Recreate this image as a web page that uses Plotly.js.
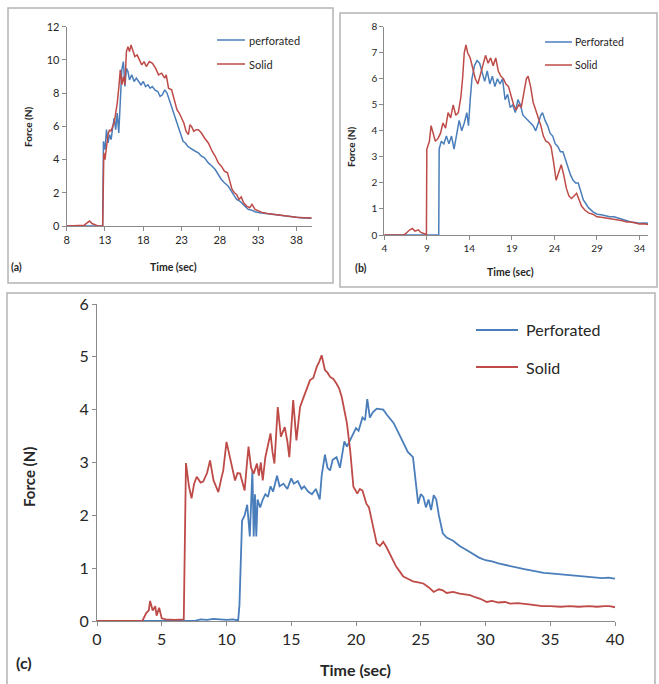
<!DOCTYPE html>
<html>
<head>
<meta charset="utf-8">
<script src="https://cdn.plot.ly/plotly-3.0.1.min.js"></script>
<style>html,body{margin:0;padding:0;background:#fff}#chart{width:659px;height:684px}</style>
</head>
<body>
<div id="chart"></div>
<script>
// ---------- Panel (a) ----------
const aPerfT = [8,12.7,12.8,13.0,13.2,13.4,13.6,13.8,14.0,14.2,
  14.4,14.6,14.8,15.0,15.2,15.4,15.6,15.8,16.0,16.2,
  16.5,16.8,17.1,17.4,17.7,18.0,18.3,18.6,18.9,19.2,
  19.5,19.9,20.2,20.5,20.8,21.1,21.4,21.7,22.0,22.3,
  22.6,22.9,23.2,23.5,23.8,24.1,24.4,24.8,25.2,25.6,
  26.0,26.5,27.0,27.4,27.8,28.2,28.6,29.1,29.5,29.9,
  30.2,30.6,31.0,31.3,31.7,32.2,32.6,33.2,34.0,34.7,
  35.5,36.5,37.5,38.5,39.2,40];
const aPerfF = [0,0,5.1,4.6,5.8,5.0,5.5,5.2,5.9,6.5,
  5.8,6.8,5.6,7.8,9.4,9.9,8.4,9.5,9.3,8.8,
  9.1,8.7,8.9,8.7,8.5,8.7,8.4,8.5,8.3,8.4,
  8.2,8.1,7.8,7.9,8.2,8.0,7.6,7.2,6.8,6.3,
  6.0,5.6,5.1,5.0,4.8,4.7,4.6,4.5,4.4,4.2,
  4.1,3.8,3.6,3.4,3.1,2.8,2.6,2.4,2.1,1.8,
  1.6,1.5,1.3,1.2,1.0,0.95,0.86,0.8,0.75,0.7,
  0.66,0.6,0.55,0.5,0.48,0.46];
const aSolidT = [8,10.3,10.7,11.0,11.3,11.6,12.0,12.7,12.85,13.0,
  13.2,13.4,13.6,13.8,14.0,14.2,14.4,14.6,14.8,15.0,
  15.2,15.4,15.6,15.8,16.0,16.2,16.4,16.6,16.9,17.2,
  17.5,17.8,18.1,18.4,18.8,19.2,19.6,20.0,20.4,20.8,
  21.0,21.3,21.7,22.1,22.4,22.7,23.0,23.3,23.6,23.9,
  24.1,24.3,24.6,24.9,25.2,25.6,26.0,26.5,27.0,27.4,
  27.8,28.2,28.6,29.0,29.3,29.6,29.9,30.2,30.5,30.8,
  31.1,31.5,31.9,32.2,32.6,33.0,33.5,34.2,35.0,36.1,
  37.0,38.0,39.0,39.7,40];
const aSolidF = [0,0.05,0.2,0.3,0.15,0.1,0.02,0.0,4.4,4.0,
  4.8,5.5,5.8,5.7,6.0,6.2,6.8,7.4,8.3,9.4,
  8.5,9.0,8.5,10.5,10.8,10.5,10.9,10.6,10.2,10.3,
  10.0,9.7,9.9,9.6,9.9,9.8,9.5,9.1,9.2,8.9,
  9.1,8.3,8.2,7.5,7.0,6.8,6.5,6.2,5.7,5.5,
  6.1,6.0,5.7,5.8,5.8,5.6,5.3,5.0,4.5,4.2,
  3.8,3.6,3.3,3.2,2.7,2.2,2.0,1.9,1.6,1.75,
  1.4,1.2,1.1,1.3,1.0,0.9,0.82,0.75,0.7,0.66,
  0.58,0.52,0.5,0.46,0.48];

// ---------- Panel (b) ----------
const bPerfT = [4,10.4,10.45,10.7,11.0,11.3,11.6,11.9,12.2,12.5,
  12.8,13.1,13.4,13.7,13.9,14.1,14.3,14.6,14.9,15.2,
  15.5,15.8,16.1,16.4,16.7,17.0,17.3,17.6,17.9,18.2,
  18.5,18.8,19.1,19.4,19.7,20.0,20.3,20.6,20.9,21.2,
  21.5,21.8,22.1,22.4,22.6,22.9,23.2,23.5,23.8,24.1,
  24.4,24.7,25.0,25.3,25.6,25.9,26.2,26.5,26.8,27.1,
  27.4,27.7,28.0,28.5,29.0,29.5,30.0,30.5,31.0,31.5,
  32.0,32.5,33.0,33.5,34.0,34.5,35.0];
const bPerfF = [0,0,3.3,3.6,3.5,3.8,3.5,3.8,3.3,3.9,
  4.4,4.0,4.3,4.7,4.2,5.2,6.0,6.5,6.7,6.6,
  6.2,5.9,6.3,5.8,6.1,5.7,6.0,5.8,6.0,5.2,
  5.4,4.9,5.0,4.7,5.2,5.0,4.6,4.5,4.4,4.3,
  4.2,4.0,4.3,4.6,4.7,4.4,4.2,3.9,3.8,3.5,
  3.4,3.2,3.2,2.9,2.6,2.3,2.1,2.0,2.0,1.7,
  1.35,1.2,1.05,0.9,0.8,0.78,0.74,0.7,0.7,0.65,
  0.6,0.55,0.5,0.48,0.45,0.46,0.45];
const bSolidT = [4,6.3,6.5,7.0,7.3,7.6,8.0,8.3,8.7,8.95,
  9.0,9.3,9.5,9.8,10.0,10.3,10.6,10.9,11.2,11.5,
  11.8,12.1,12.4,12.7,13.0,13.2,13.4,13.6,13.8,14.1,
  14.4,14.7,15.0,15.3,15.6,15.9,16.2,16.5,16.8,17.1,
  17.4,17.7,18.0,18.3,18.6,18.9,19.2,19.5,19.8,20.1,
  20.4,20.7,20.9,21.2,21.5,21.8,22.1,22.4,22.7,23.0,
  23.3,23.6,23.9,24.2,24.5,24.8,25.1,25.4,25.7,26.0,
  26.3,26.6,26.9,27.2,27.6,28.0,28.5,29.0,29.5,30.0,
  30.5,31.0,31.5,32.0,32.5,33.0,33.5,34.0,34.5,35.0];
const bSolidF = [0,0,0.05,0.2,0.25,0.15,0.2,0.1,0.05,0.02,
  3.3,3.6,4.2,3.8,3.6,3.7,3.9,4.3,4.1,4.7,
  4.5,5.0,4.6,4.7,5.3,6.0,7.0,7.3,7.0,6.8,
  6.4,6.0,5.8,6.2,6.5,6.9,6.6,6.8,6.5,6.8,
  6.3,6.1,6.0,5.8,5.7,5.3,5.0,4.8,5.0,4.9,
  5.4,6.0,6.1,5.7,5.1,4.8,4.5,4.2,3.8,3.6,
  3.55,3.4,2.8,2.1,2.4,2.7,2.3,1.8,1.5,1.4,
  1.5,1.6,1.35,1.1,0.95,0.85,0.8,0.7,0.68,0.66,
  0.62,0.62,0.58,0.55,0.5,0.5,0.45,0.42,0.43,0.4];

// ---------- Panel (c) ----------
const cPerfT = [0,7.5,8.0,8.5,9.0,9.5,10.0,10.5,10.9,11.0,
  11.1,11.2,11.4,11.6,11.8,11.9,12.0,12.1,12.2,12.3,
  12.4,12.6,12.8,13.0,13.2,13.4,13.6,13.9,14.1,14.4,
  14.7,15.0,15.2,15.5,15.8,16.0,16.3,16.6,16.9,17.2,
  17.35,17.6,17.8,18.0,18.2,18.5,18.76,18.9,19.1,19.3,
  19.5,19.7,20.0,20.2,20.5,20.7,20.87,21.07,21.3,21.6,
  21.9,22.1,22.4,22.9,23.3,23.7,24.0,24.4,24.6,24.8,
  25.0,25.2,25.4,25.6,25.8,26.0,26.2,26.4,26.7,27.0,
  27.5,28.0,28.5,29.0,29.5,30.0,30.5,31.0,31.5,32.0,
  32.5,33.0,33.5,34.0,34.5,35.0,35.5,36.0,36.5,37.0,
  37.5,38.0,38.5,39.0,39.5,40.0];
const cPerfF = [0,0,0.03,0.02,0.04,0.03,0.02,0.03,0.01,0.3,
  1.4,1.9,2.0,2.2,1.6,2.3,2.85,1.6,2.4,1.6,
  2.3,2.15,2.3,2.4,2.35,2.55,2.45,2.75,2.55,2.6,
  2.5,2.7,2.6,2.65,2.5,2.55,2.45,2.4,2.5,2.3,
  2.75,3.15,2.9,2.85,3.05,3.1,2.9,3.1,3.4,3.3,
  3.4,3.5,3.65,3.6,3.85,3.8,4.2,3.85,3.95,4.02,
  4.0,4.0,3.9,3.75,3.55,3.35,3.2,3.1,2.6,2.22,
  2.4,2.35,2.15,2.3,2.1,2.38,2.3,2.0,1.66,1.58,
  1.52,1.42,1.35,1.28,1.2,1.15,1.13,1.09,1.06,1.03,
  1.0,0.98,0.96,0.93,0.91,0.9,0.89,0.87,0.86,0.85,
  0.84,0.83,0.82,0.81,0.82,0.8];
const cSolidT = [0,3.5,3.8,4.0,4.1,4.3,4.5,4.6,4.8,5.0,
  5.3,6.0,6.7,6.8,6.87,7.1,7.3,7.5,7.7,8.0,
  8.2,8.5,8.73,9.0,9.2,9.37,9.6,9.75,10.0,10.27,
  10.5,10.66,10.85,11.05,11.2,11.4,11.55,11.7,11.9,12.1,
  12.35,12.5,12.65,12.8,13.0,13.2,13.4,13.55,13.7,13.96,
  14.2,14.5,14.7,14.85,15.0,15.15,15.4,15.68,15.9,16.07,
  16.25,16.45,16.7,16.97,17.15,17.35,17.6,17.8,18.0,18.25,
  18.5,18.7,18.9,19.1,19.3,19.55,19.8,20.1,20.3,20.5,
  20.8,21.0,21.2,21.4,21.6,21.85,22.1,22.35,22.6,22.85,
  23.1,23.4,23.65,24.0,24.4,24.8,25.2,25.6,26.0,26.4,
  26.7,27.0,27.5,28.0,28.4,28.8,29.2,29.6,30.1,30.5,
  31.0,31.5,31.9,32.5,33.2,33.8,34.4,35.0,35.8,36.5,
  37.2,38.0,38.6,39.2,39.6,40.0];
const cSolidF = [0,0,0.15,0.2,0.38,0.2,0.28,0.1,0.25,0.05,
  0.03,0.02,0.03,2.6,2.99,2.55,2.32,2.6,2.73,2.62,
  2.64,2.8,3.04,2.66,2.55,2.44,2.7,2.85,3.39,3.1,
  2.85,2.66,2.8,2.79,2.65,2.47,2.9,3.3,2.9,2.79,
  2.98,2.75,3.0,2.66,3.1,3.3,3.55,3.2,2.98,4.05,
  3.49,3.67,3.4,3.1,3.7,4.18,3.42,4.05,4.2,4.31,
  4.4,4.56,4.6,4.81,4.9,5.03,4.75,4.7,4.62,4.58,
  4.49,4.4,4.24,4.0,3.74,3.23,2.54,2.41,2.5,2.47,
  2.22,2.15,1.91,1.7,1.47,1.42,1.5,1.4,1.28,1.15,
  1.03,0.93,0.84,0.8,0.75,0.73,0.71,0.64,0.55,0.6,
  0.58,0.53,0.55,0.52,0.5,0.49,0.45,0.42,0.36,0.38,
  0.35,0.36,0.33,0.34,0.32,0.3,0.28,0.28,0.27,0.28,
  0.27,0.28,0.27,0.28,0.28,0.26];

const legendA = ['perforated', 'Solid'];
const legendB = ['Perforated', 'Solid'];
const legendC = ['Perforated', 'Solid'];
const xTitle = 'Time (sec)';
const yTitle = 'Force (N)';

// ---------- drawing ----------
const W = 659, H = 684;
const px = v => v / W;
const py = v => 1 - v / H;
const BLUE = '#4a7ebb', RED = '#be4b48';
const FONT = 'Lato, "Open Sans", sans-serif';
const TXT = '#262626';
const AX = '#8a8a8a';

function line(x, y, color, xa, ya, w) {
  return {x: x, y: y, type: 'scatter', mode: 'lines', xaxis: xa, yaxis: ya,
    line: {color: color, width: w}, hoverinfo: 'skip'};
}
const data = [
  line(aPerfT, aPerfF, BLUE, 'x', 'y', 1.5),
  line(aSolidT, aSolidF, RED, 'x', 'y', 1.5),
  line(bPerfT, bPerfF, BLUE, 'x2', 'y2', 1.5),
  line(bSolidT, bSolidF, RED, 'x2', 'y2', 1.5),
  line(cPerfT, cPerfF, BLUE, 'x3', 'y3', 1.8),
  line(cSolidT, cSolidF, RED, 'x3', 'y3', 1.8)
];

function ax(domain, range, tick0, dtick, anchor, fs) {
  return {domain: domain, range: range, tick0: tick0, dtick: dtick, anchor: anchor,
    showline: true, linecolor: AX, linewidth: 1, ticks: 'outside', ticklen: 4,
    tickcolor: AX, tickwidth: 1, showgrid: false, zeroline: false, fixedrange: true,
    tickfont: {family: FONT, size: fs, color: TXT}};
}

function box(x0, y0, x1, y1) {
  return {type: 'rect', xref: 'paper', yref: 'paper', x0: px(x0), x1: px(x1), y0: py(y1), y1: py(y0),
    line: {color: '#b4b4b4', width: 1.5}, fillcolor: 'rgba(0,0,0,0)'};
}
function legLine(x0, x1, y, color, w) {
  return {type: 'line', xref: 'paper', yref: 'paper', x0: px(x0), x1: px(x1), y0: py(y), y1: py(y),
    line: {color: color, width: w}};
}
function txt(t, x, y, size, opts) {
  return Object.assign({text: t, xref: 'paper', yref: 'paper', x: px(x), y: py(y), showarrow: false,
    xanchor: 'center', yanchor: 'middle', font: {family: FONT, size: size, color: TXT}}, opts || {});
}

const layout = {
  width: W, height: H, margin: {l: 0, r: 0, t: 0, b: 0},
  paper_bgcolor: '#ffffff', plot_bgcolor: '#ffffff', showlegend: false,
  xaxis: ax([px(66.7), px(311.7)], [8, 40], 8, 5, 'y', 11),
  yaxis: ax([py(226), py(26.7)], [0, 12], 0, 2, 'x', 11),
  xaxis2: ax([px(384.3), px(648)], [4, 35], 4, 5, 'y2', 10),
  yaxis2: ax([py(235), py(26.7)], [0, 8], 0, 1, 'x2', 10),
  xaxis3: ax([px(97), px(615)], [0, 40], 0, 5, 'y3', 16),
  yaxis3: ax([py(621), py(304)], [0, 6], 0, 1, 'x3', 16),
  shapes: [
    box(8, 8, 333, 283),
    box(340, 13, 657, 287),
    box(7, 293, 655, 700),
    legLine(217, 245, 40, BLUE, 1.5), legLine(217, 245, 64, RED, 1.5),
    legLine(545, 572, 42, BLUE, 1.5), legLine(545, 572, 65, RED, 1.5),
    legLine(476, 518, 330, BLUE, 1.8), legLine(476, 518, 367, RED, 1.8)
  ],
  annotations: [
    txt(legendA[0], 247, 40, 11, {xanchor: 'left'}),
    txt(legendA[1], 247, 64, 11, {xanchor: 'left'}),
    txt(legendB[0], 573, 42, 10.5, {xanchor: 'left'}),
    txt(legendB[1], 573, 65, 10.5, {xanchor: 'left'}),
    txt(legendC[0], 524, 330, 16, {xanchor: 'left'}),
    txt(legendC[1], 524, 367, 16, {xanchor: 'left'}),
    txt('<b>' + yTitle + '</b>', 28, 127, 10, {textangle: -90}),
    txt('<b>' + xTitle + '</b>', 173, 267, 10.5),
    txt('<b>(a)</b>', 16, 267, 10.5),
    txt('<b>' + yTitle + '</b>', 351, 147, 10, {textangle: -90}),
    txt('<b>' + xTitle + '</b>', 510, 272, 10.5),
    txt('<b>(b)</b>', 361, 268, 10.5),
    txt('<b>' + yTitle + '</b>', 29, 477, 15, {textangle: -90}),
    txt('<b>' + xTitle + '</b>', 355, 669, 16),
    txt('<b>(c)</b>', 24, 662, 16)
  ]
};

Plotly.newPlot('chart', data, layout, {displayModeBar: false, staticPlot: true});
</script>
</body>
</html>
